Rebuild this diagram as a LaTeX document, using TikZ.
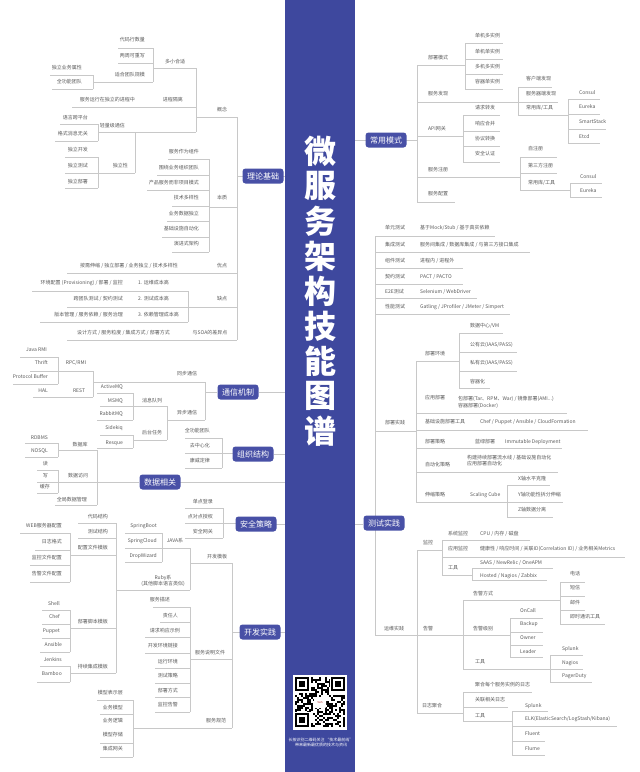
\documentclass[tikz,border=0pt]{standalone}
\usepackage{fontspec}
\setmainfont{Noto Sans CJK SC}
\definecolor{barblue}{RGB}{62,72,158}
\definecolor{boxblue}{RGB}{72,80,166}
\definecolor{txtgray}{RGB}{90,90,90}
\definecolor{lngray}{RGB}{200,200,200}
\newcounter{nn}
\newcommand\tn[4][center]{\stepcounter{nn}\node[tx,anchor=#1] (t\arabic{nn}) at (#2,#3) {#4};}
\newcommand\hln[3]{\draw[ln] (#1,#3) -- (#2,#3);}
\newcommand\vln[3]{\draw[ln] (#1,#2) -- (#1,#3);}
\begin{document}
\begin{tikzpicture}[x=1pt,y=-1pt,
  tx/.style={font=\fontsize{5}{6.5}\selectfont,text=txtgray,inner sep=0pt,align=center},
  ln/.style={draw=lngray,line width=0.6pt},
  bx/.style={fill=boxblue,rounded corners=3pt,text=white,font=\fontsize{8}{9}\selectfont,minimum width=41pt,minimum height=15pt,inner sep=0pt},
  ttl/.style={text=white,font=\fontsize{32}{33}\selectfont\bfseries,inner sep=0pt}]
\useasboundingbox (0,0) rectangle (640,772);
\fill[white] (0,0) rectangle (640,772);
\fill[barblue] (285,0) rectangle (355,772);
% title
\foreach \c [count=\i from 0] in {微,服,务,架,构,技,能,图,谱}
  \node[ttl] (ttl\i) at (320,151+\i*35) {\c};

% ================= LEFT: 理论基础 =================
\hln{281}{285}{176}\hln{237}{246}{176}\vln{237}{117}{340}
% 概念
\hln{197}{237}{117}\vln{196}{68}{132}
\hln{153}{196}{68}\vln{153}{48}{82}\hln{118}{153}{48}\hln{118}{153}{63}\hln{93}{153}{82}
\vln{93}{75}{89}\hln{50}{93}{75}\hln{52}{93}{89}
\hln{72}{196}{107}
\hln{98}{196}{132}\vln{98}{124}{141}\hln{60}{98}{124}\hln{55}{98}{141}
\vln{135}{132}{173}\hln{65}{135}{173}\vln{98}{157}{188}\hln{65}{98}{157}\hln{65}{98}{188}
% 本质
\hln{209}{237}{207}\vln{209}{159}{252}
\hln{168}{209}{159}\hln{157}{209}{175}\hln{147}{209}{190}\hln{172}{209}{206}\hln{167}{209}{221}\hln{162}{209}{237}\hln{172}{209}{252}
% 优点 缺点 SOA
\hln{67}{237}{273}
\hln{188}{237}{307}\vln{188}{291}{322}\hln{32}{188}{291}\hln{67}{188}{307}\hln{40}{188}{322}
\hln{67}{237}{340}

\tn[east]{145}{40}{代码行数量}
\tn[east]{145}{56}{两周可重写}
\tn[east]{145}{75}{适合团队规模}
\tn{175}{62}{多小合适}
\tn[east]{82}{68}{独立业务属性}
\tn[east]{82}{82}{全功能团队}
\tn[east]{135}{100}{服务运行在独立的进程中}
\tn[east]{183}{100}{进程隔离}
\tn{222}{110}{概念}
\tn[east]{88}{118}{语言跨平台}
\tn[east]{125}{126}{轻量级通信}
\tn[east]{88}{134}{格式消息无关}
\tn[east]{88}{150}{独立开发}
\tn[east]{88}{166}{独立测试}
\tn[east]{88}{182}{独立部署}
\tn[east]{128}{166}{独立性}
\tn[east]{199}{152}{服务作为组件}
\tn[east]{199}{168}{围绕业务组织团队}
\tn[east]{199}{183}{产品服务而非项目模式}
\tn[east]{199}{198}{技术多样性}
\tn[east]{199}{214}{业务数据独立}
\tn[east]{199}{229}{基础设施自动化}
\tn[east]{199}{244}{演进式架构}
\tn{222}{198}{本质}
\tn[east]{178}{266}{按需伸缩 / 独立部署 / 业务独立 / 技术多样性}
\tn{222}{266}{优点}
\tn[east]{123}{283}{环境配置 (Provisioning) / 部署 / 监控}
\tn[west]{138}{283}{1. 运维成本高}
\tn[east]{123}{299}{跨团队测试 / 契约测试}
\tn[west]{138}{299}{2. 测试成本高}
\tn[east]{123}{315}{版本管理 / 服务依赖 / 服务治理}
\tn[west]{138}{315}{3. 依赖管理成本高}
\tn{222}{299}{缺点}
\tn[east]{170}{333}{设计方式 / 服务粒度 / 集成方式 / 部署方式}
\tn{210}{333}{与SOA的差异点}
\node[bx] (b1) at (263,176) {理论基础};

% ================= 通信机制 =================
\hln{259}{285}{392}\hln{205}{217}{392}\vln{205}{382}{420}
\hln{93}{205}{382}\vln{93}{371}{397}\hln{30}{93}{371}\hln{33}{93}{397}
\vln{58}{357}{384}\hln{20}{58}{357}\hln{13}{58}{384}
\hln{167}{205}{420}\vln{167}{406}{440}\hln{100}{167}{406}\hln{133}{167}{440}
\vln{133}{393}{420}\hln{97}{133}{393}\hln{97}{133}{420}
\vln{133}{435}{448}\hln{100}{133}{435}\hln{97}{133}{448}
\tn[east]{47}{350}{Java RMI}
\tn[east]{48}{363}{Thrift}
\tn[east]{48}{377}{Protocol Buffer}
\tn[east]{48}{391}{HAL}
\tn{76}{363}{RPC/RMI}
\tn{79}{391}{REST}
\tn{187}{374}{同步通信}
\tn[east]{123}{387}{ActiveMQ}
\tn[east]{123}{401}{MSMQ}
\tn[east]{123}{414}{RabbitMQ}
\tn[east]{123}{428}{Sidekiq}
\tn[east]{123}{443}{Resque}
\tn{152}{401}{消息队列}
\tn{152}{433}{后台任务}
\tn{187}{413}{异步通信}
\node[bx] (b2) at (238,392) {通信机制};

% ================= 组织结构 =================
\hln{274}{285}{454}\hln{222}{233}{453}\vln{222}{438}{468}
\hln{185}{222}{438}\hln{185}{222}{453}\hln{185}{222}{468}
\tn[east]{210}{431}{全功能团队}
\tn[east]{210}{446}{去中心化}
\tn[east]{210}{461}{康威定律}
\node[bx] (b3) at (253,454) {组织结构};

% ================= 数据相关 =================
\hln{180}{285}{482}\hln{58}{139}{482}\vln{97}{450}{505}
\hln{58}{97}{450}\vln{58}{443}{457}\hln{25}{58}{443}\hln{25}{58}{457}
\vln{58}{470}{493}\hln{37}{58}{470}\hln{37}{58}{482}\hln{37}{58}{493}
\hln{55}{97}{505}
\tn[east]{48}{438}{RDBMS}
\tn[east]{48}{451}{NOSQL}
\tn{80}{445}{数据库}
\tn[east]{48}{464}{读}
\tn[east]{48}{476}{写}
\tn[east]{50}{487}{缓存}
\tn{78}{476}{数据访问}
\tn[east]{87}{500}{全局数据管理}
\node[bx] (b4) at (160,482) {数据相关};

% ================= 安全策略 =================
\hln{276}{285}{524}\hln{223}{236}{523}\vln{223}{508}{538}
\hln{185}{223}{508}\hln{185}{223}{523}\hln{185}{223}{538}
\tn[east]{213}{502}{单点登录}
\tn[east]{213}{517}{点对点授权}
\tn[east]{213}{532}{安全网关}
\node[bx] (b5) at (256,524) {安全策略};

% ================= 开发实践 =================
\hln{280}{285}{632}\hln{232}{241}{632}\vln{232}{563}{728}
\hln{190}{232}{563}\vln{190}{548}{590}\hln{125}{190}{548}\vln{162}{533}{562}\hln{125}{162}{533}\hln{125}{162}{562}
\hln{116}{190}{590}
\vln{116}{523}{673}\hln{78}{116}{523}\hln{78}{116}{538}\hln{70}{116}{555}
\vln{70}{533}{582}\hln{20}{70}{533}\hln{35}{70}{550}\hln{30}{70}{565}\hln{30}{70}{582}
\hln{70}{116}{628}\vln{70}{610}{652}\hln{42}{70}{610}\hln{42}{70}{624}\hln{42}{70}{638}\hln{40}{70}{652}
\hln{70}{116}{673}\vln{70}{666}{682}\hln{40}{70}{666}\hln{37}{70}{682}
\hln{190}{232}{659}\vln{190}{607}{712}
\hln{153}{190}{607}\hln{160}{190}{622}\hln{145}{190}{637}\hln{145}{190}{653}\hln{155}{190}{668}\hln{155}{190}{683}\hln{155}{190}{697}\hln{155}{190}{712}
\hln{133}{232}{728}\vln{133}{700}{757}
\hln{97}{133}{700}\hln{100}{133}{714}\hln{100}{133}{743}\hln{100}{133}{757}
\tn[east]{108}{517}{代码结构}
\tn[east]{108}{532}{测试结构}
\tn[east]{108}{548}{配置文件模板}
\tn[east]{62}{526}{WEB服务器配置}
\tn[east]{62}{542}{日志格式}
\tn[east]{62}{558}{监控文件配置}
\tn[east]{62}{574}{告警文件配置}
\tn[east]{157}{526}{SpringBoot}
\tn[east]{157}{541}{SpringCloud}
\tn[east]{157}{556}{DropWizard}
\tn{175}{541}{JAVA系}
\tn{217}{557}{开发模板}
\tn{163}{581}{Ruby系\\(其他脚本语言类似)}
\tn[east]{60}{604}{Shell}
\tn[east]{60}{617}{Chef}
\tn[east]{60}{631}{Puppet}
\tn[east]{62}{645}{Ansible}
\tn[east]{108}{622}{部署脚本模板}
\tn[east]{62}{660}{Jenkins}
\tn[east]{62}{674}{Bamboo}
\tn[east]{108}{667}{持续集成模板}
\tn[east]{170}{600}{服务描述}
\tn[east]{178}{616}{责任人}
\tn[east]{180}{631}{请求响应示例}
\tn[east]{178}{646}{开发环境链接}
\tn[east]{178}{662}{运行环境}
\tn[east]{178}{676}{测试策略}
\tn[east]{178}{691}{部署方式}
\tn[east]{178}{705}{监控告警}
\tn{210}{653}{服务说明文件}
\tn{216}{721}{服务规范}
\tn[east]{123}{693}{模型表示层}
\tn[east]{123}{708}{业务模型}
\tn[east]{123}{721}{业务逻辑}
\tn[east]{123}{735}{模型存储}
\tn[east]{123}{749}{集成网关}
\node[bx] (b6) at (260,632) {开发实践};

% ================= RIGHT: 常用模式 =================
\hln{355}{366}{140}\hln{406}{417}{140}\vln{417}{65}{202}
\hln{417}{465}{65}\vln{465}{43}{89}\hln{465}{503}{43}\hln{465}{503}{59}\hln{465}{503}{74}\hln{465}{503}{89}
\hln{417}{518}{102}\vln{518}{87}{115}\hln{518}{552}{87}\hln{518}{558}{102}\hln{518}{568}{115}
\vln{568}{99}{143}\hln{568}{600}{99}\hln{568}{600}{114}\hln{568}{606}{129}\hln{568}{600}{143}
\hln{417}{463}{136}\vln{463}{115}{162}\hln{463}{500}{115}\hln{463}{500}{131}\hln{463}{500}{146}\hln{463}{500}{162}
\hln{417}{520}{177}\vln{520}{157}{190}\hln{520}{557}{157}\hln{520}{557}{173}\hln{520}{570}{190}
\vln{570}{183}{197}\hln{570}{602}{183}\hln{570}{602}{197}
\hln{417}{455}{202}
\tn{438}{58}{部署模式}
\tn[west]{475}{36}{单机多实例}
\tn[west]{475}{52}{单机单实例}
\tn[west]{475}{67}{多机多实例}
\tn[west]{475}{82}{容器单实例}
\tn{438}{94}{服务发现}
\tn[west]{526}{79}{客户端发现}
\tn[west]{526}{94}{服务器端发现}
\tn[west]{526}{108}{常用库/工具}
\tn[west]{579}{93}{Consul}
\tn[west]{579}{107}{Eureka}
\tn[west]{579}{122}{SmartStack}
\tn[west]{579}{137}{Etcd}
\tn{437}{129}{API网关}
\tn[west]{475}{108}{请求转发}
\tn[west]{475}{124}{响应合并}
\tn[west]{475}{139}{协议转换}
\tn[west]{475}{154}{安全认证}
\tn{438}{170}{服务注册}
\tn[west]{528}{149}{自注册}
\tn[west]{528}{166}{第三方注册}
\tn[west]{528}{183}{常用库/工具}
\tn[west]{580}{177}{Consul}
\tn[west]{580}{191}{Eureka}
\tn{438}{194}{服务配置}
\node[bx] (b7) at (386,140) {常用模式};

% ================= 测试实践 =================
\vln{375}{236}{635}
\hln{375}{495}{236}\hln{375}{530}{252}\hln{375}{463}{268}\hln{375}{463}{284}\hln{375}{477}{298}\hln{375}{510}{314}
\hln{375}{416}{431}\vln{416}{361}{502}
\hln{416}{459}{361}\vln{459}{333}{388}\hln{459}{503}{333}\hln{459}{517}{352}\hln{459}{517}{371}\hln{459}{490}{388}
\hln{416}{567}{413}\hln{416}{588}{430}\hln{416}{562}{448}\hln{416}{558}{472}
\hln{416}{507}{502}\vln{507}{485}{517}\hln{507}{550}{485}\hln{507}{563}{502}\hln{507}{553}{517}
\hln{355}{363}{524}
\tn[west]{385}{228}{单元测试}
\tn[west]{420}{228}{基于Mock/Stub / 基于真实依赖}
\tn[west]{385}{245}{集成测试}
\tn[west]{420}{245}{服务间集成 / 数据库集成 / 与第三方接口集成}
\tn[west]{385}{261}{组件测试}
\tn[west]{420}{261}{进程内 / 进程外}
\tn[west]{385}{277}{契约测试}
\tn[west]{420}{277}{PACT / PACTO}
\tn[west]{385}{292}{E2E测试}
\tn[west]{420}{292}{Selenium / WebDriver}
\tn[west]{385}{307}{性能测试}
\tn[west]{420}{307}{Gatling / JProfiler / JMeter / Simpert}
\tn[west]{385}{423}{部署实践}
\tn[west]{425}{354}{部署环境}
\tn[west]{470}{326}{数据中心/VM}
\tn[west]{470}{345}{公有云(IAAS/PASS)}
\tn[west]{470}{363}{私有云(IAAS/PASS)}
\tn[west]{470}{382}{容器化}
\tn[west]{425}{398}{应用部署}
\node[tx,anchor=west,align=left] (t900) at (458,402.5) {包部署(Tar、RPM、War) / 镜像部署(AMI...)\\容器部署(Docker)};
\tn[west]{425}{422}{基础设施部署工具}
\tn[west]{480}{422}{Chef / Puppet / Ansible / CloudFormation}
\tn[west]{425}{442}{部署策略}
\tn[west]{475}{442}{蓝绿部署}
\tn[west]{505}{442}{Immutable Deployment}
\tn[west]{425}{465}{自动化策略}
\node[tx,anchor=west,align=left] (t901) at (467,460.5) {构建持续部署流水线 / 基础设施自动化\\应用部署自动化};
\tn[west]{425}{495}{伸缩策略}
\tn[west]{470}{495}{Scaling Cube}
\tn[west]{518}{479}{X轴水平克隆}
\tn[west]{518}{495}{Y轴功能性拆分伸缩}
\tn[west]{518}{510}{Z轴数据分离}
\node[bx] (b8) at (384,523) {测试实践};

% ================= 运维实践 =================
\hln{375}{510}{635}\vln{417}{550}{713}
\hln{417}{442}{550}\vln{442}{540}{575}\hln{442}{530}{540}\hln{442}{625}{557}\hln{442}{472}{575}
\vln{472}{568}{580}\hln{472}{553}{568}\hln{472}{547}{580}
\vln{463}{600}{669}\hln{463}{560}{600}\vln{560}{582}{624}
\hln{560}{585}{582}\hln{560}{585}{596}\hln{560}{585}{610}\hln{560}{605}{624}
\vln{510}{618}{657}\hln{510}{543}{618}\hln{510}{543}{632}\hln{510}{543}{645}\hln{510}{543}{657}
\hln{463}{550}{669}\vln{550}{655}{682}\hln{550}{583}{655}\hln{550}{583}{669}\hln{550}{592}{682}
\hln{417}{463}{713}\vln{463}{692}{721}\hln{463}{532}{692}\hln{463}{508}{707}\hln{463}{512}{721}
\vln{512}{711}{755}\hln{512}{548}{711}\hln{512}{617}{726}\hln{512}{545}{741}\hln{512}{545}{755}
\tn[west]{384}{629}{运维实践}
\tn[west]{423}{543}{监控}
\tn[west]{448}{534}{系统监控}
\tn[west]{480}{534}{CPU / 内存 / 磁盘}
\tn[west]{448}{549}{应用监控}
\tn[west]{480}{549}{健康性 / 响应时间 / 关联ID(Correlation ID) / 业务相关Metrics}
\tn[west]{448}{568}{工具}
\tn[west]{480}{563}{SAAS / NewRelic / OneAPM}
\tn[west]{480}{576}{Hosted / Nagios / Zabbix}
\tn[west]{423}{629}{告警}
\tn[west]{473}{594}{告警方式}
\tn[west]{570}{574}{电话}
\tn[west]{570}{588}{短信}
\tn[west]{570}{603}{邮件}
\tn[west]{570}{617}{即时通讯工具}
\tn[west]{473}{629}{告警级别}
\tn[west]{520}{611}{OnCall}
\tn[west]{520}{624}{Backup}
\tn[west]{520}{638}{Owner}
\tn[west]{520}{652}{Leader}
\tn[west]{475}{662}{工具}
\tn[west]{562}{649}{Splunk}
\tn[west]{562}{663}{Nagios}
\tn[west]{562}{676}{PagerDuty}
\tn[west]{422}{706}{日志聚合}
\tn[west]{475}{685}{聚合每个服务实例的日志}
\tn[west]{475}{700}{关联相关日志}
\tn[west]{475}{716}{工具}
\tn[west]{525}{706}{Splunk}
\tn[west]{525}{719}{ELK(ElasticSearch/LogStash/Kibana)}
\tn[west]{525}{734}{Fluent}
\tn[west]{525}{749}{Flume}

% ================= QR code =================
\fill[white] (293,675) rectangle (347,730);
\pgfmathsetseed{12}
\foreach \i in {0,...,24}{\foreach \j in {0,...,24}{%
  \pgfmathtruncatemacro\r{rnd*2}%
  \ifnum\r=1 \fill[black] (295+2*\i,677+2*\j) rectangle ++(2,2);\fi}}
\foreach \ox/\oy in {295/677,331/677,295/713}{%
  \fill[white] (\ox-1,\oy-1) rectangle ++(17,17);
  \fill[black] (\ox,\oy) rectangle ++(14,14);
  \fill[white] (\ox+2,\oy+2) rectangle ++(10,10);
  \fill[black] (\ox+4,\oy+4) rectangle ++(6,6);}
\fill[white,rounded corners=1pt] (314,697) rectangle (326,708);
\node[text=red!60!black,font=\fontsize{2.5}{3}\selectfont,inner sep=0pt] (qrlogo) at (320,702.5) {Tech};
\node[text=white,font=\fontsize{4}{5.5}\selectfont,align=center,inner sep=0pt] (qrtxt) at (321,742.5) {长按识别二维码关注 “技术最前线”\\带来最新最优质的技术与资讯};
\end{tikzpicture}
\end{document}
